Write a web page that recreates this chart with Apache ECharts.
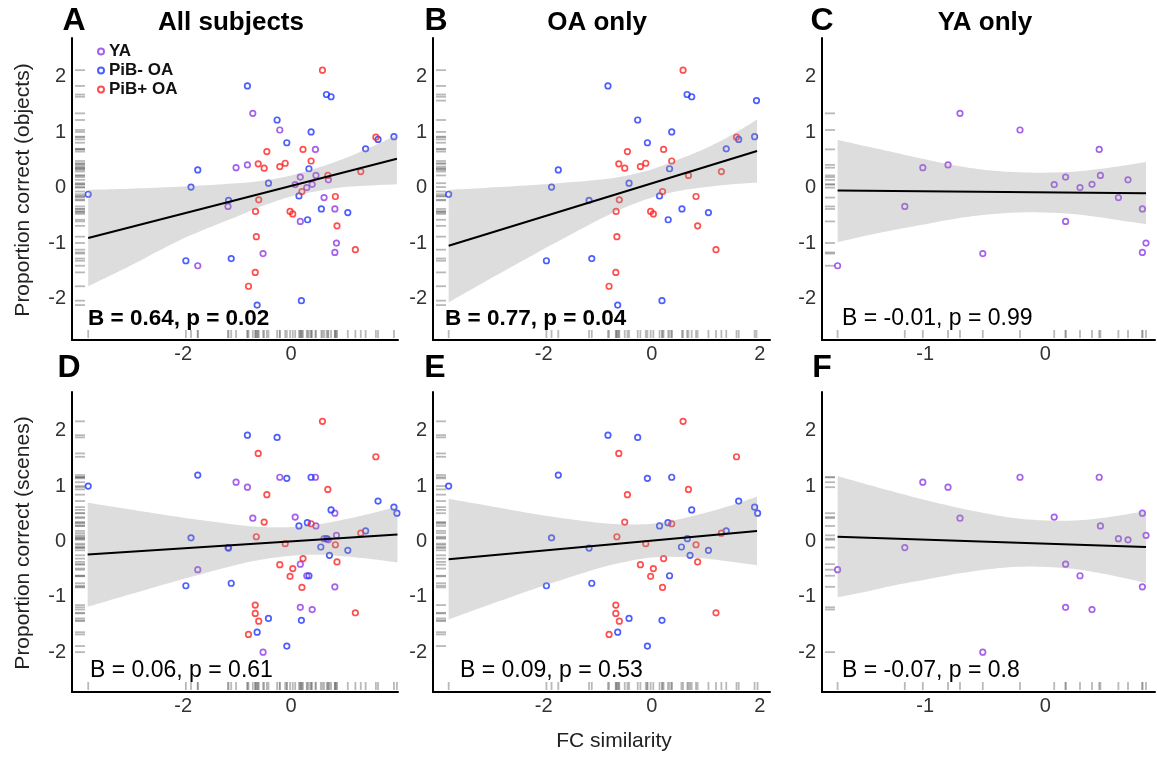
<!DOCTYPE html>
<html><head><meta charset="utf-8">
<script src="https://cdn.jsdelivr.net/npm/echarts@6/dist/echarts.min.js"></script>
<style>html,body{margin:0;padding:0;background:#fff}#c{width:1157px;height:763px}</style>
</head><body><div id="c"></div>
<script>
// ---------------- DATA ----------------
const groupNames = ['YA', 'PiB- OA', 'PiB+ OA'];

// Young adults: FC similarity, objects score, scenes score
const yaFC      = [-1.73, -1.17, -1.02, -0.81, -0.71, -0.52, -0.21, 0.075, 0.17, 0.17, 0.29, 0.39, 0.45, 0.46, 0.61, 0.69, 0.81, 0.84, 0.81];
const yaObjects = [-1.41, -0.34, 0.36, 0.41, 1.34, -1.19, 1.04, 0.055, 0.19, -0.61, 0.0, 0.06, 0.69, 0.22, -0.18, 0.14, -0.385, -1.0, -1.17];
const yaScenes  = [-0.51, -0.11, 1.07, 0.98, 0.42, -2.0, 1.16, 0.44, -0.41, -1.19, -0.62, -1.23, 1.16, 0.28, 0.05, 0.03, 0.51, 0.11, -0.82];

// PiB- older adults [FC similarity, score]
const pibNegObjects = [[-3.76,-0.12],[-1.95,-1.32],[-1.855,0.01],[-1.73,0.32],[-1.16,-0.23],[-1.11,-1.28],[-0.81,1.835],[-0.63,-2.12],[-0.42,0.08],[-0.26,1.22],[-0.08,0.81],[0.145,-0.15],[0.19,-2.04],[0.305,-0.58],[0.33,0.34],[0.37,1.005],[0.56,-0.385],[0.655,1.68],[0.74,1.64],[1.05,-0.45],[1.38,0.70],[1.61,0.87],[1.905,0.92]];
const pibNegObjectsOnlyInB = [[1.94,1.57]];
const pibNegScenes = [[-3.76,1.00],[-1.95,-0.80],[-1.855,0.066],[-1.73,1.20],[-1.16,-0.12],[-1.11,-0.755],[-0.81,1.92],[-0.63,-1.64],[-0.42,-1.39],[-0.26,1.88],[-0.08,1.14],[-0.08,-1.89],[0.145,0.28],[0.19,-1.425],[0.30,0.34],[0.33,-0.62],[0.37,1.16],[0.55,-0.10],[0.66,0.05],[0.71,-0.25],[0.74,0.57],[1.05,-0.16],[1.38,0.19],[1.61,0.73],[1.905,0.62],[1.96,0.51]];

// PiB+ older adults [FC similarity, score]
const pibPosObjects = [[-0.79,-1.78],[-0.665,-1.53],[-0.645,-0.885],[-0.66,-0.43],[-0.60,-0.22],[-0.61,0.43],[-0.50,0.35],[-0.45,0.65],[-0.21,0.38],[-0.11,0.44],[-0.02,-0.43],[0.03,-0.475],[0.20,-0.07],[0.22,0.69],[0.37,0.48],[0.58,2.12],[0.68,0.22],[0.82,-0.16],[0.85,-0.69],[1.19,-1.12],[1.29,0.29],[1.57,0.91]];
const pibPosScenes = [[-0.79,-1.68],[-0.665,-1.30],[-0.665,-1.15],[-0.60,-1.44],[-0.61,1.59],[-0.45,0.845],[-0.50,0.35],[-0.645,0.085],[-0.21,-0.42],[-0.11,-0.04],[-0.02,-0.63],[0.03,-0.49],[0.20,-0.83],[0.22,-0.31],[0.37,0.32],[0.58,2.17],[0.68,0.94],[0.82,-0.06],[0.85,-0.37],[1.19,-1.29],[1.29,0.15],[1.57,1.53]];

// Fitted regression lines (endpoints)
const fitA = [[-3.76,-0.91],[1.96,0.52]];
const fitB = [[-3.76,-1.05],[1.95,0.66]];
const fitC = [[-1.73,-0.054],[0.84,-0.10]];
const fitD = [[-3.77,-0.236],[1.97,0.127]];
const fitE = [[-3.76,-0.32],[1.95,0.187]];
const fitF = [[-1.73,0.085],[0.84,-0.10]];

// Confidence bands
const bandX_A  = [-3.76,-3,-2,-1,-0.5,0,0.5,1,1.5,1.96];
const bandHi_A = [-0.04,-0.02,0.02,0.08,0.13,0.22,0.36,0.53,0.74,0.95];
const bandLo_A = [-1.78,-1.42,-0.92,-0.52,-0.32,-0.16,-0.06,0.01,0.04,0.06];
const bandX_B  = [-3.76,-3,-2,-1,-0.5,0,0.5,1,1.5,1.95];
const bandHi_B = [-0.04,0.0,0.06,0.14,0.21,0.33,0.51,0.71,0.96,1.23];
const bandLo_B = [-2.07,-1.65,-1.11,-0.59,-0.36,-0.18,-0.06,0.01,0.06,0.09];
const bandX_C  = [-1.73,-1.5,-1.25,-1,-0.75,-0.5,-0.25,0,0.25,0.5,0.84];
const bandHi_C = [0.86,0.75,0.63,0.51,0.40,0.32,0.28,0.27,0.29,0.35,0.46];
const bandLo_C = [-0.985,-0.87,-0.76,-0.66,-0.56,-0.49,-0.45,-0.45,-0.48,-0.55,-0.66];
const bandX_D  = [-3.77,-3,-2,-1,-0.5,0,0.5,1,1.5,1.97];
const bandHi_D = [0.70,0.58,0.43,0.30,0.26,0.26,0.31,0.40,0.51,0.63];
const bandLo_D = [-1.18,-0.96,-0.68,-0.42,-0.32,-0.26,-0.24,-0.27,-0.32,-0.38];
const bandX_E  = [-3.76,-3,-2,-1,-0.5,0,0.5,1,1.5,1.95];
const bandHi_E = [0.77,0.64,0.47,0.34,0.31,0.32,0.40,0.52,0.66,0.81];
const bandLo_E = [-1.41,-1.14,-0.80,-0.49,-0.37,-0.29,-0.28,-0.31,-0.37,-0.43];
const bandX_F  = [-1.73,-1.5,-1.25,-1,-0.75,-0.5,-0.25,0,0.25,0.5,0.84];
const bandHi_F = [1.18,1.04,0.89,0.75,0.62,0.51,0.42,0.38,0.38,0.43,0.55];
const bandLo_F = [-1.01,-0.91,-0.79,-0.69,-0.59,-0.51,-0.46,-0.46,-0.50,-0.59,-0.75];

// Tick labels
const xTicksAll = [-2, 0];
const xTicksOA  = [-2, 0, 2];
const xTicksYA  = [-1, 0];
const yTicks    = [-2, -1, 0, 1, 2];

// Texts
const panelLetters = ['A','B','C','D','E','F'];
const columnTitles = ['All subjects', 'OA only', 'YA only'];
const statTexts = ['B = 0.64, p = 0.02','B = 0.77, p = 0.04','B = -0.01, p = 0.99','B = 0.06, p = 0.61','B = 0.09, p = 0.53','B = -0.07, p = 0.8'];
const yTitles = ['Proportion correct (objects)', 'Proportion correct (scenes)'];
const xTitle = 'FC similarity';

// ---------------- LAYOUT / STYLE ----------------
const FONT = '"Liberation Sans", Arial, Helvetica, sans-serif';
const colors = {'YA':'#8e3ae6', 'PiB- OA':'#1f36ff', 'PiB+ OA':'#ff2222'};
const rugColor = 'rgba(95,95,95,0.55)';
const bandColor = 'rgba(150,150,150,0.32)';

const yaObjPts = yaFC.map((x,i)=>[x, yaObjects[i]]);
const yaScnPts = yaFC.map((x,i)=>[x, yaScenes[i]]);

const panels = [
  {grid:{left:72, top:38, width:326, height:302}, x:[-4.06,1.98], y:[-2.75,2.70], xt:xTicksAll,
   groups:[['YA',yaObjPts],['PiB- OA',pibNegObjects],['PiB+ OA',pibPosObjects]], fit:fitA, band:[bandX_A,bandHi_A,bandLo_A],
   stat:{x:88, y:319, bold:true}},
  {grid:{left:433, top:38, width:337, height:302}, x:[-4.05,2.19], y:[-2.75,2.70], xt:xTicksOA,
   groups:[['PiB- OA',pibNegObjects.concat(pibNegObjectsOnlyInB)],['PiB+ OA',pibPosObjects]], fit:fitB, band:[bandX_B,bandHi_B,bandLo_B],
   stat:{x:445, y:319, bold:true}},
  {grid:{left:822, top:38, width:333, height:302}, x:[-1.86,0.915], y:[-2.75,2.70], xt:xTicksYA,
   groups:[['YA',yaObjPts]], fit:fitC, band:[bandX_C,bandHi_C,bandLo_C],
   stat:{x:842, y:319, bold:false}},
  {grid:{left:72, top:392, width:326, height:300}, x:[-4.06,1.98], y:[-2.72,2.70], xt:xTicksAll,
   groups:[['YA',yaScnPts],['PiB- OA',pibNegScenes],['PiB+ OA',pibPosScenes]], fit:fitD, band:[bandX_D,bandHi_D,bandLo_D],
   stat:{x:90, y:671, bold:false}},
  {grid:{left:433, top:392, width:337, height:300}, x:[-4.05,2.19], y:[-2.72,2.70], xt:xTicksOA,
   groups:[['PiB- OA',pibNegScenes],['PiB+ OA',pibPosScenes]], fit:fitE, band:[bandX_E,bandHi_E,bandLo_E],
   stat:{x:460, y:671, bold:false}},
  {grid:{left:822, top:392, width:333, height:300}, x:[-1.86,0.915], y:[-2.72,2.70], xt:xTicksYA,
   groups:[['YA',yaScnPts]], fit:fitF, band:[bandX_F,bandHi_F,bandLo_F],
   stat:{x:842, y:671, bold:false}}
];

// Catmull-Rom smoothing of an edge in pixel space (rendering only)
function smoothEdge(pts, steps) {
  const out = [];
  for (let i = 0; i < pts.length - 1; i++) {
    const p0 = pts[Math.max(i-1,0)], p1 = pts[i], p2 = pts[i+1], p3 = pts[Math.min(i+2, pts.length-1)];
    for (let s = 0; s < steps; s++) {
      const t = s/steps, t2 = t*t, t3 = t2*t;
      const f = (a,b,c,d) => 0.5*((2*b) + (-a+c)*t + (2*a-5*b+4*c-d)*t2 + (-a+3*b-3*c+d)*t3);
      out.push([f(p0[0],p1[0],p2[0],p3[0]), f(p0[1],p1[1],p2[1],p3[1])]);
    }
  }
  out.push(pts[pts.length-1]);
  return out;
}

const grids = [], xAxes = [], yAxes = [], series = [], graphics = [];
const axisLine = {show:true, onZero:false, lineStyle:{color:'#000', width:2}};

panels.forEach((p, i) => {
  grids.push(Object.assign({containLabel:false}, p.grid));
  xAxes.push({type:'value', gridIndex:i, min:p.x[0], max:p.x[1], axisLine, axisTick:{show:false}, splitLine:{show:false},
    axisLabel:{customValues:p.xt, fontSize:20, color:'#333', fontFamily:FONT, margin:4}});
  yAxes.push({type:'value', gridIndex:i, min:p.y[0], max:p.y[1], axisLine, axisTick:{show:false}, splitLine:{show:false},
    axisLabel:{customValues:yTicks, fontSize:20, color:'#333', fontFamily:FONT, margin:6}});

  const all = [];
  p.groups.forEach(([name, pts]) => {
    pts.forEach(q => all.push(q));
    series.push({type:'scatter', name, xAxisIndex:i, yAxisIndex:i, data:pts, symbol:'circle', symbolSize:5.5,
      itemStyle:{color:'rgba(255,255,255,0)', borderColor:colors[name], borderWidth:1.7}, silent:true, z:2});
  });
  // rugs
  series.push({type:'scatter', xAxisIndex:i, yAxisIndex:i, data:all.map(q=>[p.x[0], q[1]]), symbol:'rect',
    symbolSize:[10,1.8], symbolOffset:[8,0], itemStyle:{color:rugColor}, clip:false, silent:true, z:1});
  series.push({type:'scatter', xAxisIndex:i, yAxisIndex:i, data:all.map(q=>[q[0], p.y[0]]), symbol:'rect',
    symbolSize:[1.8,8], symbolOffset:[0,-6], itemStyle:{color:rugColor}, clip:false, silent:true, z:1});
  // confidence band (custom polygon through the band edge values)
  const [bx, bhi, blo] = p.band;
  series.push({type:'custom', xAxisIndex:i, yAxisIndex:i, coordinateSystem:'cartesian2d', silent:true, z:3,
    data:[[bx[0], bhi[0]]],
    renderItem: (params, api) => {
      const up = bx.map((v,k)=>api.coord([v, bhi[k]]));
      const lo = bx.map((v,k)=>api.coord([v, blo[k]]));
      const pts = smoothEdge(up, 10).concat(smoothEdge(lo, 10).reverse());
      return {type:'polygon', shape:{points:pts}, style:{fill:bandColor, stroke:null}};
    }});
  // fit line
  series.push({type:'line', xAxisIndex:i, yAxisIndex:i, data:p.fit, symbol:'none', lineStyle:{color:'#000', width:2}, silent:true, z:4});

  // stat label
  graphics.push({type:'text', x:p.stat.x, y:p.stat.y, style:{text:statTexts[i], fontSize:p.stat.bold?22.5:23,
    fontWeight:p.stat.bold?'bold':'normal', fontFamily:FONT, fill:'#000', align:'left', verticalAlign:'middle'}, z:10});
});

// panel letters and titles
const letterPos = [[74,21],[436,21],[822,21],[69,368],[435,368],[822,368]];
panelLetters.forEach((t,i)=>graphics.push({type:'text', x:letterPos[i][0], y:letterPos[i][1],
  style:{text:t, fontSize:32, fontWeight:'bold', fontFamily:FONT, fill:'#000', align:'center', verticalAlign:'middle'}}));
const titlePos = [[231,23],[597,23],[985,23]];
columnTitles.forEach((t,i)=>graphics.push({type:'text', x:titlePos[i][0], y:titlePos[i][1],
  style:{text:t, fontSize:26, fontWeight:'bold', fontFamily:FONT, fill:'#000', align:'center', verticalAlign:'middle'}}));
const yTitlePos = [[23,190],[23,543]];
yTitles.forEach((t,i)=>graphics.push({type:'text', x:yTitlePos[i][0], y:yTitlePos[i][1], rotation:Math.PI/2,
  style:{text:t, fontSize:21, fontFamily:FONT, fill:'#222', align:'center', verticalAlign:'middle'}}));
graphics.push({type:'text', x:614, y:741, style:{text:xTitle, fontSize:21, fontFamily:FONT, fill:'#222', align:'center', verticalAlign:'middle'}});

const chart = echarts.init(document.getElementById('c'), null, {renderer:'canvas'});
chart.setOption({
  animation:false,
  backgroundColor:'#fff',
  grid:grids, xAxis:xAxes, yAxis:yAxes, series,
  legend:{data:groupNames, orient:'vertical', left:97, top:43, itemWidth:6, itemHeight:6, itemGap:2, icon:'circle',
    selectedMode:false, padding:0, textStyle:{fontSize:17, fontWeight:'bold', fontFamily:FONT, color:'#111', lineHeight:17}},
  graphic:graphics
});
</script></body></html>
